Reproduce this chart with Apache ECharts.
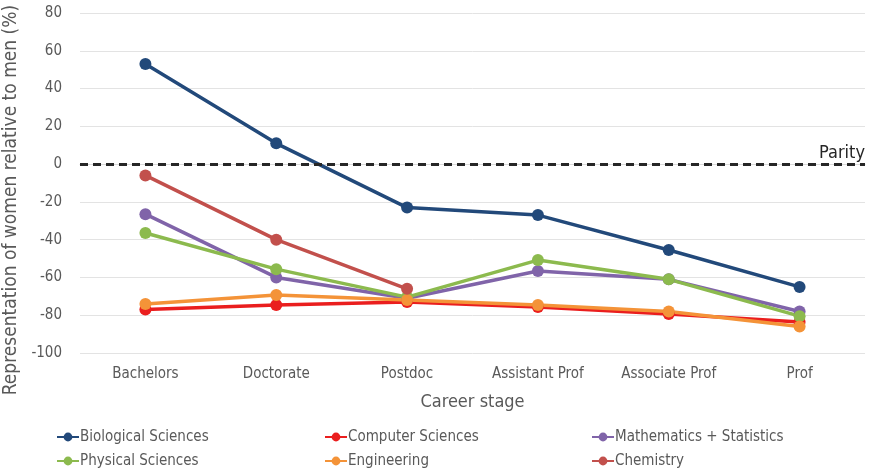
<!DOCTYPE html>
<html>
<head>
<meta charset="utf-8">
<script src="https://cdn.jsdelivr.net/npm/echarts@6/dist/echarts.min.js"></script>
<style>html,body{margin:0;padding:0;background:#fff}#c{width:869px;height:471px}</style>
</head>
<body>
<div id="c"></div>
<script>
const categories = ['Bachelors', 'Doctorate', 'Postdoc', 'Assistant Prof', 'Associate Prof', 'Prof'];
const biological = [53, 11, -23, -27, -45.5, -65];
const computer = [-77, -74.6, -73, -75.7, -79.4, -83.6];
const mathematics = [-26.5, -60, -71, -56.6, -61, -78];
const physical = [-36.5, -55.6, -70.4, -50.8, -61, -80.5];
const engineering = [-74, -69.3, -72, -74.6, -78, -86];
const chemistry = [-6, -40, -66, null, null, null];
const yTicks = { min: -100, max: 80, interval: 20 };
const parityValue = 0;

const FONT = '"Liberation Sans Narrow", "DejaVu Sans Condensed", "Liberation Sans", sans-serif';
const TXT = '#595959';

function mk(name, data, color, extra) {
  return Object.assign({
    name: name, type: 'line', data: data,
    symbol: 'circle', symbolSize: 12,
    lineStyle: { width: 3.5, color: color },
    itemStyle: { color: color },
    connectNulls: false,
    animation: false
  }, extra || {});
}

const chart = echarts.init(document.getElementById('c'));
const legendBase = {
  orient: 'vertical', itemGap: 8, itemWidth: 22, itemHeight: 11, padding: 0,
  textStyle: { fontFamily: FONT, fontSize: 15, color: TXT, lineHeight: 16, padding: [0, 0, 0, -4] }
};
chart.setOption({
  backgroundColor: '#fff',
  animation: false,
  grid: { left: 80, right: 4, top: 13, bottom: 118, outerBoundsMode: 'none', containLabel: false },
  legend: [
    Object.assign({}, legendBase, { left: 56, top: 429, data: ['Biological Sciences', 'Physical Sciences'] }),
    Object.assign({}, legendBase, { left: 324, top: 429, data: ['Computer Sciences', 'Engineering'] }),
    Object.assign({}, legendBase, { left: 591, top: 429, data: ['Mathematics + Statistics', 'Chemistry'] })
  ],
  xAxis: {
    type: 'category', data: categories, boundaryGap: true,
    name: 'Career stage', nameLocation: 'middle', nameGap: 40,
    nameTextStyle: { fontFamily: FONT, fontSize: 18, color: TXT },
    axisLine: { show: true, lineStyle: { color: '#d9d9d9', width: 1 } },
    axisTick: { show: false },
    axisLabel: { fontFamily: FONT, fontSize: 15, color: TXT, margin: 14 }
  },
  yAxis: {
    type: 'value', min: yTicks.min, max: yTicks.max, interval: yTicks.interval,
    name: 'Representation of women relative to men (%)', nameLocation: 'middle', nameGap: 53,
    nameTextStyle: { fontFamily: FONT, fontSize: 19, color: TXT, padding: [0, 34, 0, 0] },
    axisLine: { show: false }, axisTick: { show: false },
    axisLabel: { fontFamily: FONT, fontSize: 15, color: TXT, margin: 18 },
    splitLine: { lineStyle: { color: '#e3e3e3', width: 1 } }
  },
  series: [
    mk('Biological Sciences', biological, '#22497A', {
      markLine: {
        silent: true, symbol: ['none', 'none'],
        lineStyle: { color: '#262626', type: [8, 5], width: 3 },
        label: { show: true, position: 'insideEndTop', formatter: 'Parity', fontFamily: FONT, fontSize: 18, color: '#262626', distance: [0, 2] },
        data: [{ yAxis: parityValue }]
      }
    }),
    mk('Computer Sciences', computer, '#EA1E1E'),
    mk('Mathematics + Statistics', mathematics, '#8064A9'),
    mk('Physical Sciences', physical, '#8CBA4E'),
    mk('Engineering', engineering, '#F49338'),
    mk('Chemistry', chemistry, '#C2504C')
  ]
});
</script>
</body>
</html>
